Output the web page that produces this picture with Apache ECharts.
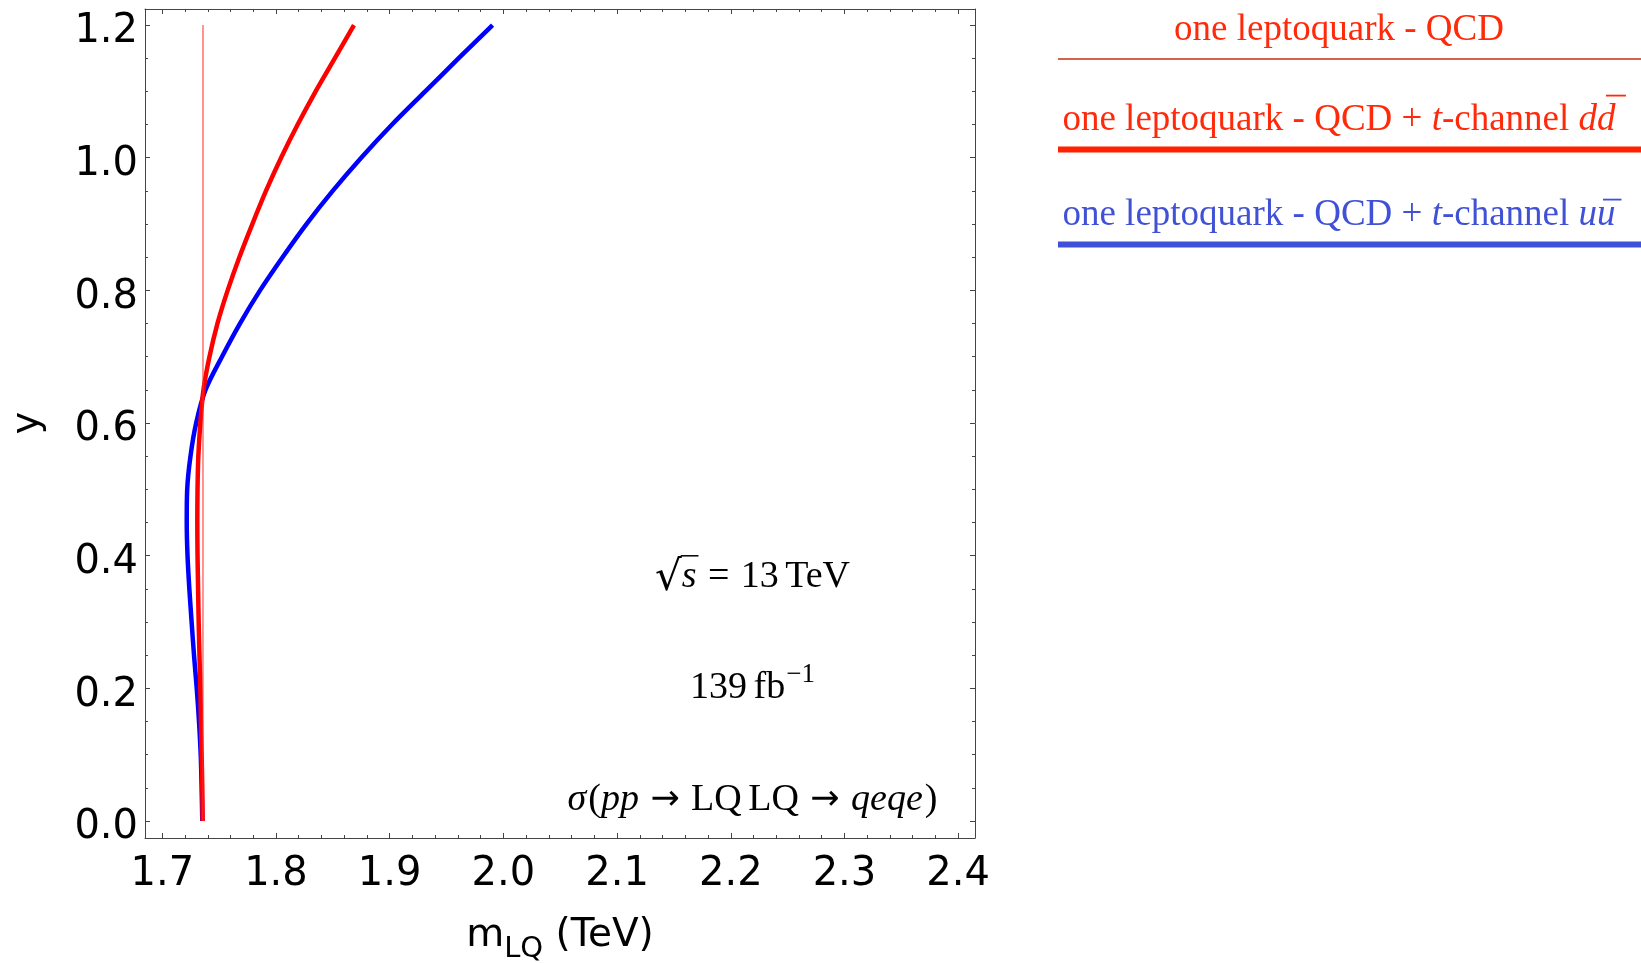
<!DOCTYPE html>
<html>
<head>
<meta charset="utf-8">
<script src="https://cdn.jsdelivr.net/npm/echarts@6/dist/echarts.min.js"></script>
<style>
  html, body { margin: 0; padding: 0; background: #ffffff; }
  #chart { width: 1641px; height: 963px; }
</style>
</head>
<body>
<div id="chart"></div>
<script>
// Rapidity values (vertical axis) at which the mass limits are sampled
const rapidity = [0, 0.05, 0.1, 0.15, 0.2, 0.25, 0.3, 0.35, 0.4, 0.45, 0.5, 0.55, 0.6,
                  0.65, 0.7, 0.75, 0.8, 0.85, 0.9, 0.95, 1.0, 1.05, 1.1, 1.15, 1.2];

// Mass limit (TeV): one leptoquark, QCD + t-channel d dbar
const massDD = [1.7355, 1.7352, 1.7346, 1.7340, 1.7335, 1.7327, 1.7320, 1.7315, 1.7310, 1.7308,
                1.7310, 1.7317, 1.7335, 1.7362, 1.7415, 1.7485, 1.7575, 1.7678, 1.7792, 1.7912,
                1.8045, 1.8191, 1.8349, 1.8518, 1.8686];

// Mass limit (TeV): one leptoquark, QCD + t-channel u ubar
const massUU = [1.7352, 1.7346, 1.7338, 1.7323, 1.7303, 1.7279, 1.7258, 1.7238, 1.7222, 1.7215,
                1.7219, 1.7248, 1.7298, 1.7380, 1.7525, 1.7683, 1.7860, 1.8058, 1.8268, 1.8499,
                1.8750, 1.9021, 1.9313, 1.9607, 1.9905];

// Mass limit (TeV): one leptoquark, QCD only
const rapidityQCD = [0, 0.3, 0.6, 0.9, 1.2];
const massQCD = [1.7357, 1.7358, 1.7358, 1.7358, 1.7358];

// Axis ticks
const xTicks = [1.7, 1.8, 1.9, 2.0, 2.1, 2.2, 2.3, 2.4];
const xMinorTicks = [1.72, 1.74, 1.76, 1.78, 1.82, 1.84, 1.86, 1.88, 1.92, 1.94, 1.96, 1.98,
                     2.02, 2.04, 2.06, 2.08, 2.12, 2.14, 2.16, 2.18, 2.22, 2.24, 2.26, 2.28,
                     2.32, 2.34, 2.36, 2.38];
const yTicks = [0, 0.2, 0.4, 0.6, 0.8, 1.0, 1.2];
const yMinorTicks = [0.05, 0.1, 0.15, 0.25, 0.3, 0.35, 0.45, 0.5, 0.55, 0.65, 0.7, 0.75,
                     0.85, 0.9, 0.95, 1.05, 1.1, 1.15];

// ---- layout / style ----
const X_MIN = 1.6848, X_MAX = 2.4148;
const Y_MIN = -0.0256, Y_MAX = 1.2242;
const FRAME = '#444444';
const SANS = '"DejaVu Sans"';
const SERIF = '"Liberation Serif"';
const RED = '#ff0000', BLUE = '#0000ff';
const LEG_RED = '#ff2a0a', LEG_BLUE = '#4151d6';

// text measuring helpers for composed labels
const mctx = document.createElement('canvas').getContext('2d');
function font(size, family, italic) { return (italic ? 'italic ' : '') + size + 'px ' + family; }
function textWidth(f, s) { mctx.font = f; mctx.textBaseline = 'alphabetic'; return mctx.measureText(s).width; }
function inkAscent(f, s) { mctx.font = f; mctx.textBaseline = 'alphabetic'; return mctx.measureText(s).actualBoundingBoxAscent; }
function midOffset(f) {
  mctx.font = f;
  mctx.textBaseline = 'alphabetic';
  const a = mctx.measureText('H').actualBoundingBoxAscent;
  mctx.textBaseline = 'middle';
  const b = mctx.measureText('H').actualBoundingBoxAscent;
  mctx.textBaseline = 'alphabetic';
  return a - b;
}

// Lays out a run of text pieces on a common baseline
function textRun(segs, anchorX, baseY, align, color) {
  let total = 0;
  const laid = segs.map(sg => {
    const w = textWidth(sg.f, sg.t);
    const x = total + (sg.gap || 0);
    total = x + w;
    return { sg, x, w };
  });
  const x0 = align === 'center' ? anchorX - total / 2 : (align === 'right' ? anchorX - total : anchorX);
  const els = [];
  laid.forEach(({ sg, x, w }) => {
    const bx = x0 + x;
    const by = baseY + (sg.dy || 0);
    const c = sg.c || color;
    els.push({
      type: 'text', x: bx, y: by - midOffset(sg.f), silent: true,
      style: { text: sg.t, font: sg.f, fill: c, align: 'left', verticalAlign: 'middle',
               textAlign: 'left', textVerticalAlign: 'middle' }
    });
    if (sg.bar) {
      const [a, b, yy, lw] = sg.bar;
      els.push({
        type: 'line', silent: true,
        shape: { x1: bx + a, y1: by - yy, x2: bx + b, y2: by - yy },
        style: { stroke: c, lineWidth: lw || 1.5 }
      });
    }
  });
  return els;
}

// ---- graphic texts ----
const graphics = [];

// x axis title  m_LQ (TeV)
const fT = font(39, SANS), fTs = font(29, SANS);
graphics.push(...textRun([
  { t: 'm', f: fT },
  { t: 'LQ', f: fTs, dy: 11 },
  { t: ' (TeV)', f: fT }
], 560, 946, 'center', '#000'));

// y axis title
graphics.push({
  type: 'text', x: 28, y: 423, rotation: Math.PI / 2, silent: true,
  style: { text: 'y', font: font(38, SANS), fill: '#000', align: 'center', verticalAlign: 'middle',
           textAlign: 'center', textVerticalAlign: 'middle' }
});

// annotations inside the frame
const AF = 38;
const fA = font(AF, SERIF), fAi = font(AF, SERIF, true), fAsup = font(27, SERIF);
const fArrow = font(AF - 3, '"DejaVu Sans"');
const fRad = font(AF + 4, '"DejaVu Serif"');
const mg = 0.3 * AF, thin = 0.17 * AF;
const radTop = inkAscent(fRad, '\u221A');
graphics.push(...textRun([
  { t: '\u221A', f: fRad, dy: 3 },
  { t: 's', f: fAi, dy: 0, bar: [-1, textWidth(fAi, 's') + 2, radTop - 3 - 0.8, 1.5] },
  { t: '=', f: fA, gap: mg },
  { t: '13', f: fA, gap: mg },
  { t: 'TeV', f: fA, gap: thin }
], 752.5, 587, 'center', '#000'));

graphics.push(...textRun([
  { t: '139', f: fA },
  { t: 'fb', f: fA, gap: thin },
  { t: '\u22121', f: fAsup, dy: -16, gap: 1 }
], 752.5, 698, 'center', '#000'));

graphics.push(...textRun([
  { t: '\u03C3', f: fAi },
  { t: '(', f: fA, gap: 2 },
  { t: 'pp', f: fAi },
  { t: '\u2192', f: fArrow, gap: mg, dy: -1 },
  { t: 'LQ', f: fA, gap: mg },
  { t: 'LQ', f: fA, gap: thin },
  { t: '\u2192', f: fArrow, gap: mg, dy: -1 },
  { t: 'qeqe', f: fAi, gap: mg },
  { t: ')', f: fA, gap: 2 }
], 752.5, 810, 'center', '#000'));

// legend on the right
const LF = 37;
const fL = font(LF, SERIF), fLi = font(LF, SERIF, true);
const LEG_CX = 1339, LEG_X0 = 1058, LEG_X1 = 1641;
graphics.push(...textRun([{ t: 'one leptoquark - QCD', f: fL }], LEG_CX, 40, 'center', LEG_RED));
graphics.push({ type: 'line', silent: true, shape: { x1: LEG_X0, y1: 59, x2: LEG_X1, y2: 59 },
                style: { stroke: '#d5624a', lineWidth: 2 } });

const dAsc = inkAscent(fLi, 'd');
graphics.push(...textRun([
  { t: 'one leptoquark - QCD + ', f: fL },
  { t: 't', f: fLi },
  { t: '-channel ', f: fL },
  { t: 'd', f: fLi },
  { t: 'd', f: fLi, bar: [0.24 * LF, 0.78 * LF, dAsc + 0.2 * LF, 1.8] }
], LEG_CX, 130, 'center', LEG_RED));
graphics.push({ type: 'line', silent: true, shape: { x1: LEG_X0, y1: 149.5, x2: LEG_X1, y2: 149.5 },
                style: { stroke: '#ff2200', lineWidth: 6 } });

const uAsc = inkAscent(fLi, 'u');
graphics.push(...textRun([
  { t: 'one leptoquark - QCD + ', f: fL },
  { t: 't', f: fLi },
  { t: '-channel ', f: fL },
  { t: 'u', f: fLi },
  { t: 'u', f: fLi, bar: [0.16 * LF, 0.66 * LF, uAsc + 0.2 * LF, 1.8] }
], LEG_CX, 225, 'center', LEG_BLUE));
graphics.push({ type: 'line', silent: true, shape: { x1: LEG_X0, y1: 244.5, x2: LEG_X1, y2: 244.5 },
                style: { stroke: '#4050d8', lineWidth: 6 } });

// ---- axes: a framed box with inward ticks on all four sides ----
const tickStyle = { color: FRAME, width: 1 };
const labelStyle = { fontFamily: SANS, fontSize: 40, color: '#000' };
const fmt = v => Number(v).toFixed(1);

function frameAxis(position, min, max, ticks, len, withLine, label) {
  return {
    type: 'value', position, min, max,
    axisLine: { show: withLine, onZero: false, lineStyle: { color: FRAME, width: 1 } },
    axisTick: { show: true, inside: true, length: len, customValues: ticks, lineStyle: tickStyle },
    axisLabel: label ? Object.assign({ show: true, customValues: ticks, formatter: fmt }, label) : { show: false },
    splitLine: { show: false },
    minorTick: { show: false },
    splitArea: { show: false }
  };
}

const xAxes = [
  frameAxis('bottom', X_MIN, X_MAX, xTicks, 5, true, Object.assign({ margin: 17 }, labelStyle)),
  frameAxis('bottom', X_MIN, X_MAX, xMinorTicks, 3, false, null),
  frameAxis('top', X_MIN, X_MAX, xTicks, 5, true, null),
  frameAxis('top', X_MIN, X_MAX, xMinorTicks, 3, false, null)
];
const yAxes = [
  frameAxis('left', Y_MIN, Y_MAX, yTicks, 5, true,
            Object.assign({ margin: 7, verticalAlign: 'top', lineHeight: 14 }, labelStyle)),
  frameAxis('left', Y_MIN, Y_MAX, yMinorTicks, 3, false, null),
  frameAxis('right', Y_MIN, Y_MAX, yTicks, 5, true, null),
  frameAxis('right', Y_MIN, Y_MAX, yMinorTicks, 3, false, null)
];

const pairs = (ms, ys) => ms.map((m, i) => [m, ys[i]]);

const chart = echarts.init(document.getElementById('chart'), null, { renderer: 'canvas' });
chart.setOption({
  animation: false,
  backgroundColor: '#ffffff',
  grid: { left: 145, top: 9, right: 666, bottom: 125, containLabel: false, outerBoundsMode: 'none' },
  xAxis: xAxes,
  yAxis: yAxes,
  series: [
    { name: 'QCD + t-channel u ubar', type: 'line', data: pairs(massUU, rapidity),
      showSymbol: false, smooth: 0.3, z: 2,
      lineStyle: { color: BLUE, width: 4.5 }, itemStyle: { color: BLUE } },
    { name: 'QCD + t-channel d dbar', type: 'line', data: pairs(massDD, rapidity),
      showSymbol: false, smooth: 0.3, z: 3,
      lineStyle: { color: RED, width: 4.5 }, itemStyle: { color: RED } },
    { name: 'QCD', type: 'line', data: pairs(massQCD, rapidityQCD),
      showSymbol: false, z: 4,
      lineStyle: { color: '#ff2a2a', width: 1 }, itemStyle: { color: RED } }
  ],
  graphic: { elements: graphics }
});
</script>
</body>
</html>
